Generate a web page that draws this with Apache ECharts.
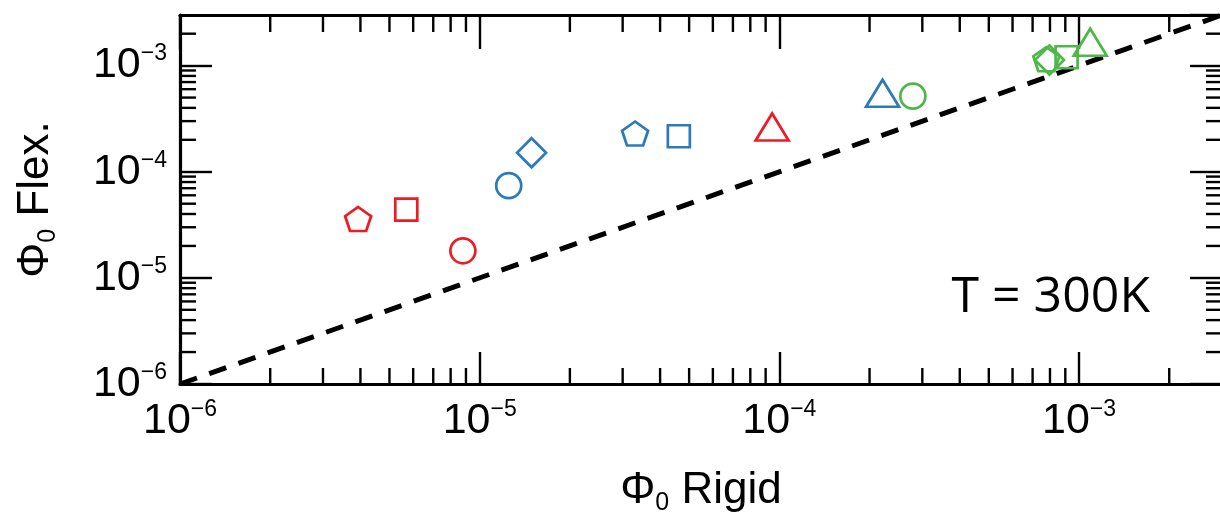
<!DOCTYPE html>
<html>
<head>
<meta charset="utf-8">
<script src="https://cdn.jsdelivr.net/npm/echarts@6/dist/echarts.min.js"></script>
<style>
html,body{margin:0;padding:0;background:#fff;}
#chart{width:1220px;height:516px;}
</style>
</head>
<body>
<div id="chart"></div>
<script>
// ---- data ----
const axisMin = 1e-6;
const axisMax = 3e-3;
const minorMultipliers = [2, 3, 4, 5, 6, 7, 8, 9];
const decades = [-6, -5, -4, -3];

const redShapes = ['pentagon', 'rect', 'circle', 'triangle'];
const redX = [3.93e-6, 5.69e-6, 8.79e-6, 9.46e-5];
const redY = [3.59e-5, 4.40e-5, 1.80e-5, 2.64e-4];

const blueShapes = ['circle', 'diamond', 'pentagon', 'rect', 'triangle'];
const blueX = [1.25e-5, 1.49e-5, 3.30e-5, 4.62e-5, 2.21e-4];
const blueY = [7.40e-5, 1.51e-4, 2.29e-4, 2.16e-4, 5.50e-4];

const greenShapes = ['circle', 'pentagon', 'diamond', 'rect', 'triangle'];
const greenX = [2.79e-4, 7.78e-4, 7.97e-4, 9.09e-4, 1.09e-3];
const greenY = [5.16e-4, 1.15e-3, 1.13e-3, 1.20e-3, 1.66e-3];

const diagX = [1e-6, 3e-3];
const diagY = [1e-6, 3e-3];

const annotation = 'T = 300K';
const xTitleMain = 'Rigid';
const yTitleMain = 'Flex.';

// ---- styles ----
const PENTAGON = 'path://M50 0 L97.6 34.5 L79.4 90.5 L20.6 90.5 L2.4 34.5 Z';
const symbolStyle = {
  circle: { symbol: 'circle', size: [25, 25] },
  rect: { symbol: 'rect', size: [22, 22] },
  diamond: { symbol: 'diamond', size: [29, 29] },
  pentagon: { symbol: PENTAGON, size: [26, 24] },
  triangle: { symbol: 'triangle', size: [33, 27] }
};
const FONT = '"Liberation Sans", Arial, Helvetica, sans-serif';

function buildPoints(shapes, xs, ys) {
  return shapes.map((s, i) => ({
    value: [xs[i], ys[i]],
    symbol: symbolStyle[s].symbol,
    symbolSize: symbolStyle[s].size
  }));
}

function scatter(name, color, shapes, xs, ys) {
  return {
    name, type: 'scatter', data: buildPoints(shapes, xs, ys),
    itemStyle: { color: 'rgba(0,0,0,0)', borderColor: color, borderWidth: 2.7, opacity: 1 },
    emphasis: { disabled: true }, z: 5, clip: false, silent: true
  };
}

function expLabel(v) {
  const e = Math.log10(v);
  const r = Math.round(e);
  if (Math.abs(e - r) > 1e-6) return '';
  return '{b|10}{s|\u2212' + Math.abs(r) + '}';
}

const labelRich = {
  b: { fontSize: 43, fontFamily: FONT, color: '#000', lineHeight: 46 },
  s: { fontSize: 23, fontFamily: FONT, color: '#000', lineHeight: 46, verticalAlign: 'top' }
};

const minorVals = [];
decades.forEach(d => minorMultipliers.forEach(m => {
  const v = m * Math.pow(10, d);
  if (v < axisMax * 0.999) minorVals.push(v);
}));

const axisLineStyle = { color: '#000', width: 3.2 };
const tickStyle = { color: '#000', width: 2.4 };

const chart = echarts.init(document.getElementById('chart'), null, { renderer: 'canvas' });
chart.setOption({
  animation: false,
  backgroundColor: '#fff',
  grid: { left: 180, right: -2, top: 15, bottom: 132, containLabel: false, outerBoundsMode: 'none' },
  xAxis: [{
    type: 'log', min: axisMin, max: axisMax, logBase: 10, position: 'bottom',
    axisLine: { lineStyle: axisLineStyle },
    axisTick: { inside: true, length: 32, lineStyle: tickStyle },
    splitLine: { show: false },
    axisLabel: { formatter: expLabel, rich: labelRich, margin: 14, showMaxLabel: false },
    name: '{a|\u03a6}{sub|0}{a| ' + xTitleMain + '}', nameLocation: 'middle', nameGap: 82,
    nameTextStyle: { rich: {
      a: { fontSize: 44, fontFamily: FONT, color: '#000', lineHeight: 50 },
      sub: { fontSize: 25, fontFamily: FONT, color: '#000', lineHeight: 50, verticalAlign: 'bottom' }
    } }
  }, {
    type: 'log', min: axisMin, max: axisMax, logBase: 10, position: 'top',
    axisLine: { lineStyle: axisLineStyle },
    axisTick: { inside: true, length: 34, lineStyle: tickStyle },
    splitLine: { show: false }, axisLabel: { show: false }
  }],
  yAxis: [{
    type: 'log', min: axisMin, max: axisMax, logBase: 10, position: 'left',
    axisLine: { lineStyle: axisLineStyle },
    axisTick: { inside: true, length: 32, lineStyle: tickStyle },
    splitLine: { show: false },
    axisLabel: { formatter: expLabel, rich: labelRich, margin: 13, showMaxLabel: false },
    name: '{a|\u03a6}{sub|0}{a| ' + yTitleMain + '}', nameLocation: 'middle', nameGap: 119, nameRotate: 90,
    nameTextStyle: { rich: {
      a: { fontSize: 44, fontFamily: FONT, color: '#000', lineHeight: 50 },
      sub: { fontSize: 25, fontFamily: FONT, color: '#000', lineHeight: 50, verticalAlign: 'bottom' }
    } }
  }, {
    type: 'log', min: axisMin, max: axisMax, logBase: 10, position: 'right',
    axisLine: { lineStyle: axisLineStyle },
    axisTick: { inside: true, length: 32, lineStyle: tickStyle },
    splitLine: { show: false }, axisLabel: { show: false }
  }],
  graphic: [{
    type: 'text', right: 70, top: 273,
    style: { text: annotation, font: '50px "Open Sans", "Liberation Sans", sans-serif', fill: '#000' }
  }],
  series: [
    {
      type: 'line', data: diagX.map((x, i) => [x, diagY[i]]), showSymbol: false, symbol: 'none',
      lineStyle: { color: '#000', width: 5, type: [18, 13] }, z: 3, silent: true, clip: true
    },
    scatter('red', '#ED1C24', redShapes, redX, redY),
    scatter('blue', '#2B7BBA', blueShapes, blueX, blueY),
    scatter('green', '#4DB748', greenShapes, greenX, greenY),
    {
      type: 'custom', data: [[axisMin, axisMin]], clip: false, silent: true, z: 4,
      renderItem: function (params, api) {
        const children = [];
        const st = { stroke: '#000', lineWidth: 2.4 };
        minorVals.forEach(v => {
          const b = api.coord([v, axisMin]);
          const t = api.coord([v, axisMax]);
          children.push({ type: 'line', shape: { x1: b[0], y1: b[1], x2: b[0], y2: b[1] - 16 }, style: st });
          children.push({ type: 'line', shape: { x1: t[0], y1: t[1], x2: t[0], y2: t[1] + 17 }, style: st });
          const l = api.coord([axisMin, v]);
          const r = api.coord([axisMax, v]);
          children.push({ type: 'line', shape: { x1: l[0], y1: l[1], x2: l[0] + 16, y2: l[1] }, style: st });
          children.push({ type: 'line', shape: { x1: r[0], y1: r[1], x2: r[0] - 16, y2: r[1] }, style: st });
        });
        return { type: 'group', children };
      }
    }
  ]
});
</script>
</body>
</html>
